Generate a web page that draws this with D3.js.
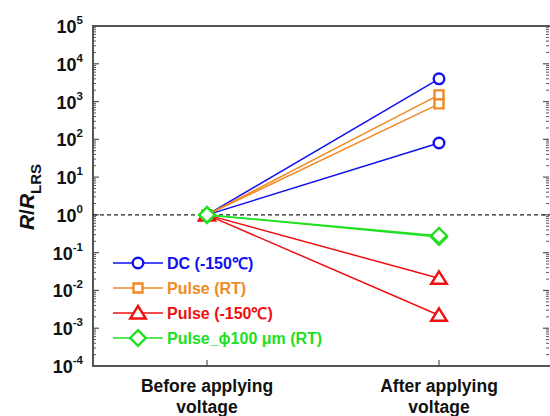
<!DOCTYPE html>
<html>
<head>
<meta charset="utf-8">
<script src="https://cdn.jsdelivr.net/npm/d3@7"></script>
<style>
  body { margin: 0; background: #fff; }
  text { font-family: Arial, "Liberation Sans", sans-serif; font-weight: bold; }
</style>
</head>
<body>
<div id="chart"></div>
<script>
// data
var stages = ['Before applying|voltage', 'After applying|voltage']
var seriesNames = ['DC (-150\u2103)', 'Pulse (RT)', 'Pulse (-150\u2103)', 'Pulse_\u03d5100 \u03bcm (RT)']
var seriesColors = ['#1010f0', '#f08a24', '#f01010', '#20e020']
var seriesSymbols = ['circle', 'square', 'triangle', 'diamond']
// each series has two runs: [before, after]
var dcRuns = [[1, 4000], [1, 80]]
var pulseRtRuns = [[1, 1500], [1, 870]]
var pulseColdRuns = [[1, 0.021], [1, 0.0022]]
var pulseDotRuns = [[1, 0.26], [1, 0.28]]
var allRuns = [dcRuns, pulseRtRuns, pulseColdRuns, pulseDotRuns]
var yTickExp = [-4, -3, -2, -1, 0, 1, 2, 3, 4, 5]

var width = 550
var height = 416
var padL = 93, padR = 550, padT = 26, padB = 366

var svg = d3.select('#chart').append('svg')
  .attr('width', width)
  .attr('height', height)

var x = d3.scalePoint().domain(stages).range([207, 439])
var y = d3.scaleLog().domain([1e-4, 1e5]).range([padB, padT])

// minor ticks
var minor = []
for (var e = -4; e < 5; e++) {
  for (var k = 2; k <= 9; k++) minor.push(k * Math.pow(10, e))
}
var majors = yTickExp.map(function (e) { return Math.pow(10, e) })

var axisG = svg.append('g')
function drawTicks(xpos, dir) {
  axisG.selectAll(null).data(minor).enter().append('line')
    .attr('x1', xpos).attr('x2', xpos + dir * 3)
    .attr('y1', function (d) { return y(d) }).attr('y2', function (d) { return y(d) })
    .attr('stroke', '#555').attr('stroke-width', 1)
  axisG.selectAll(null).data(majors).enter().append('line')
    .attr('x1', xpos).attr('x2', xpos + dir * 6)
    .attr('y1', function (d) { return y(d) }).attr('y2', function (d) { return y(d) })
    .attr('stroke', '#555').attr('stroke-width', 1.2)
}
drawTicks(padL, 1)
drawTicks(padR - 1, -1)

// x ticks
axisG.selectAll(null).data(stages).enter().append('line')
  .attr('x1', function (d) { return x(d) }).attr('x2', function (d) { return x(d) })
  .attr('y1', padB).attr('y2', padB - 6)
  .attr('stroke', '#555').attr('stroke-width', 1.2)

// frame
svg.append('rect')
  .attr('x', padL).attr('y', padT)
  .attr('width', padR - padL + 5).attr('height', padB - padT)
  .attr('fill', 'none').attr('stroke', '#555').attr('stroke-width', 2)

// y tick labels
var yl = svg.append('g')
majors.forEach(function (d, i) {
  var t = yl.append('text')
    .attr('x', 83).attr('y', y(d) + 7)
    .attr('text-anchor', 'end')
    .attr('font-size', 18)
    .attr('fill', '#111')
  t.append('tspan').text('10')
  t.append('tspan').attr('dy', -9).attr('font-size', 11.5).text(yTickExp[i])
})

// y label
var ylab = svg.append('text')
  .attr('transform', 'translate(34,' + 197 + ') rotate(-90)')
  .attr('text-anchor', 'middle')
  .attr('font-size', 21)
  .attr('fill', '#111')
ylab.append('tspan').attr('font-style', 'italic').text('R')
ylab.append('tspan').text('/')
ylab.append('tspan').attr('font-style', 'italic').text('R')
ylab.append('tspan').attr('dy', 7).attr('font-size', 15).text('LRS')

// x labels
stages.forEach(function (s) {
  var parts = s.split('|')
  parts.forEach(function (p, j) {
    svg.append('text')
      .attr('x', x(s)).attr('y', 392 + j * 21)
      .attr('text-anchor', 'middle')
      .attr('font-size', 17.5)
      .attr('fill', '#111')
      .text(p)
  })
})

// dashed line at 1
svg.append('line')
  .attr('x1', padL).attr('x2', padR)
  .attr('y1', y(1)).attr('y2', y(1))
  .attr('stroke', '#222').attr('stroke-width', 1.2)
  .attr('stroke-dasharray', '4,3')

function symbolPath(type) {
  if (type === 'circle') return d3.symbol().type(d3.symbolCircle).size(Math.PI * 5.3 * 5.3)()
  if (type === 'square') return 'M-4.5,-4.5h9v9h-9Z'
  if (type === 'triangle') return 'M0,-7L7.8,5.5L-7.8,5.5Z'
  if (type === 'diamond') return 'M0,-7.8L7.8,0L0,7.8L-7.8,0Z'
}

var line = d3.line()
  .x(function (d, i) { return x(stages[i]) })
  .y(function (d) { return y(d) })

var plot = svg.append('g')
allRuns.forEach(function (runs, si) {
  var g = plot.append('g')
  runs.forEach(function (r) {
    g.append('path').attr('d', line(r))
      .attr('fill', 'none').attr('stroke', seriesColors[si]).attr('stroke-width', 1.5)
  })
})
allRuns.forEach(function (runs, si) {
  var g = plot.append('g')
  runs.forEach(function (r) {
    r.forEach(function (v, i) {
      g.append('path')
        .attr('d', symbolPath(seriesSymbols[si]))
        .attr('transform', 'translate(' + x(stages[i]) + ',' + y(v) + ')')
        .attr('fill', '#fff').attr('stroke', seriesColors[si]).attr('stroke-width', 2.4)
    })
  })
})

// legend
var legend = svg.append('g')
seriesNames.forEach(function (n, i) {
  var ly = 263 + i * 25
  legend.append('line').attr('x1', 113).attr('x2', 163).attr('y1', ly).attr('y2', ly)
    .attr('stroke', seriesColors[i]).attr('stroke-width', 1.5)
  legend.append('path')
    .attr('d', symbolPath(seriesSymbols[i]))
    .attr('transform', 'translate(138,' + ly + ')')
    .attr('fill', '#fff').attr('stroke', seriesColors[i]).attr('stroke-width', 2.4)
  legend.append('text')
    .attr('x', 167).attr('y', ly + 6)
    .attr('font-size', 16)
    .attr('fill', seriesColors[i])
    .text(n)
})
</script>
</body>
</html>
